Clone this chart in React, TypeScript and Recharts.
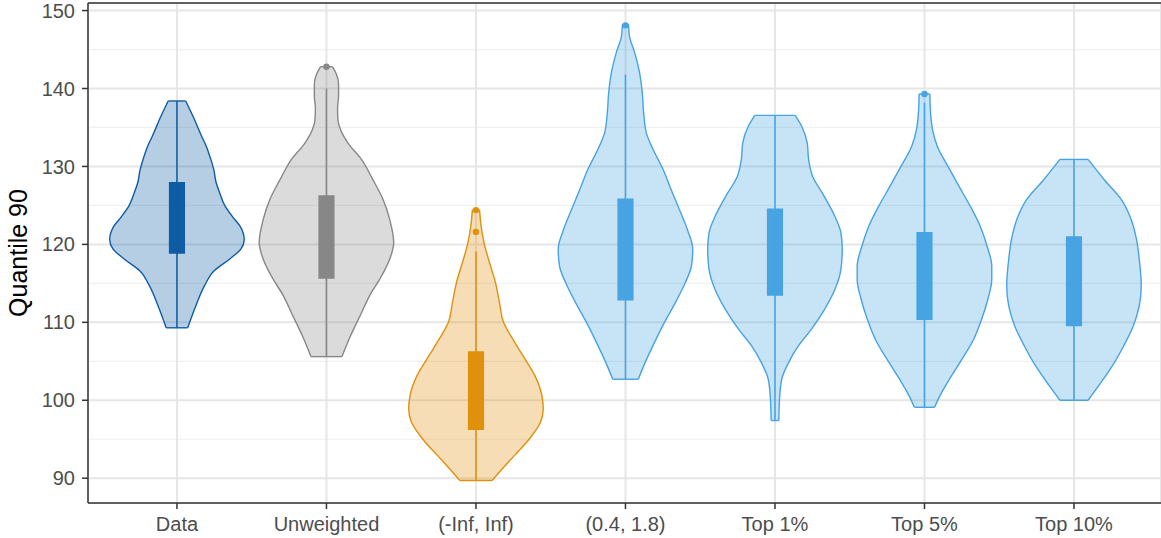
import React from "react";
import {
  ComposedChart,
  Area,
  Line,
  Scatter,
  XAxis,
  YAxis,
  CartesianGrid,
  ReferenceLine,
} from "recharts";

const FONT = '"Liberation Sans", Arial, Helvetica, sans-serif';

const categories = ["Data", "Unweighted", "(-Inf, Inf)", "(0.4, 1.8)", "Top 1%", "Top 5%", "Top 10%"];
const colors = ["#0E5CA4", "#878787", "#E0900B", "#47A3E2", "#47A3E2", "#47A3E2", "#47A3E2"];

// violin outlines: [quantile 90 value, width relative to the widest point], top to bottom
const dataViolin = [
  [138.4, 0.13], [136.4, 0.24], [134.0, 0.36], [132.5, 0.44], [131.0, 0.5], [129.5, 0.55],
  [128.0, 0.58], [126.5, 0.64], [125.0, 0.71], [123.5, 0.83], [122.3, 0.94], [120.6, 1.0],
  [119.4, 0.95], [118.1, 0.78], [116.6, 0.55], [114.7, 0.41], [112.1, 0.28], [109.3, 0.16],
];
const unweightedViolin = [
  [142.8, 0.087], [141.8, 0.15], [140.5, 0.18], [139.0, 0.18], [137.5, 0.165], [136.0, 0.17],
  [134.7, 0.21], [133.0, 0.32], [130.9, 0.52], [128.3, 0.69], [125.8, 0.84], [123.2, 0.94],
  [120.2, 1.0], [118.1, 0.94], [115.5, 0.79], [113.4, 0.64], [111.2, 0.52], [108.3, 0.36],
  [105.6, 0.23],
];
const infViolin = [
  [124.4, 0.054], [122.8, 0.07], [120.2, 0.12], [117.7, 0.2], [115.1, 0.29], [112.5, 0.35],
  [110.0, 0.41], [107.8, 0.55], [105.7, 0.7], [103.1, 0.88], [100.6, 0.98], [98.9, 1.0],
  [97.2, 0.96], [95.0, 0.79], [92.9, 0.57], [90.8, 0.35], [89.7, 0.24],
];
const rangeViolin = [
  [148.2, 0.045], [146.7, 0.06], [144.5, 0.14], [142.0, 0.21], [139.4, 0.25], [136.9, 0.27],
  [134.3, 0.31], [132.2, 0.41], [129.6, 0.56], [127.0, 0.68], [124.5, 0.8], [121.9, 0.92],
  [119.4, 1.0], [117.2, 0.98], [115.1, 0.89], [112.5, 0.74], [110.0, 0.58], [107.4, 0.43],
  [104.8, 0.29], [102.7, 0.19],
];
const top1Violin = [
  [136.55, 0.3], [135.1, 0.4], [133.0, 0.48], [130.9, 0.5], [128.7, 0.56], [126.2, 0.73],
  [123.6, 0.89], [121.5, 0.98], [119.35, 1.0], [116.8, 0.98], [114.2, 0.89], [111.7, 0.74],
  [109.1, 0.54], [107.0, 0.35], [104.8, 0.2], [102.7, 0.1], [100.1, 0.067], [97.4, 0.057],
];
const top5Violin = [
  [139.3, 0.08], [136.9, 0.09], [134.7, 0.12], [132.6, 0.19], [130.0, 0.35], [127.5, 0.51],
  [124.9, 0.68], [122.3, 0.83], [119.8, 0.93], [117.2, 1.0], [115.5, 1.0], [112.9, 0.94],
  [110.4, 0.85], [107.8, 0.73], [105.3, 0.56], [102.7, 0.37], [100.6, 0.23], [99.1, 0.15],
];
const top10Violin = [
  [130.9, 0.21], [128.3, 0.45], [125.8, 0.7], [123.2, 0.85], [120.6, 0.93], [118.1, 0.97],
  [114.7, 1.0], [112.1, 0.97], [109.5, 0.88], [107.0, 0.74], [104.4, 0.57], [101.9, 0.37],
  [100.0, 0.21],
];
const violins = [dataViolin, unweightedViolin, infViolin, rangeViolin, top1Violin, top5Violin, top10Violin];

// box stats: [lower whisker, q1, q3, upper whisker]
const boxStats = [
  [109.3, 118.8, 128.0, 138.4],
  [105.6, 115.6, 126.3, 140.0],
  [89.7, 96.2, 106.3, 119.1],
  [102.7, 112.8, 125.9, 141.8],
  [97.4, 113.4, 124.6, 136.55],
  [99.1, 110.3, 121.6, 138.2],
  [100.0, 109.5, 121.05, 130.9],
];
const outliers = [[], [142.8], [121.6, 124.4], [148.1], [], [139.3], []];

const yTicks = [90, 100, 110, 120, 130, 140, 150];
const yMinor = [95, 105, 115, 125, 135, 145];
const xTicks = categories.map((_, i) => i);

const HALF = 0.45; // half of the max violin width
const BOX_HALF = 0.054;
const X_DOMAIN = [-0.595, 6.582];
const Y_DOMAIN = [86.82, 150.97];

const violinRows = violins.map((p, i) => p.map(([v, w]) => ({ v, x: [i - w * HALF, i + w * HALF] })));
const capRows = violins.map((p, i) => {
  const [vt, wt] = p[0];
  const [vb, wb] = p[p.length - 1];
  return [
    [{ v: vt, x: i - wt * HALF }, { v: vt, x: i + wt * HALF }],
    [{ v: vb, x: i - wb * HALF }, { v: vb, x: i + wb * HALF }],
  ];
});
const whiskerRows = boxStats.map(([lo, , , hi], i) => [{ v: hi, x: i }, { v: lo, x: i }]);
const boxRows = boxStats.map(([, q1, q3], i) => [
  { v: q3, x: [i - BOX_HALF, i + BOX_HALF] },
  { v: q1, x: [i - BOX_HALF, i + BOX_HALF] },
]);
const outlierRows = outliers.map((o, i) => o.map((v) => ({ v, x: i })));

const YTitle = (props: any) => {
  const vb = props.viewBox ?? { x: 0, y: 3, width: 88, height: 501 };
  const cx = vb.x + 27;
  const cy = vb.y + vb.height / 2;
  return (
    <text
      x={cx}
      y={cy}
      transform={`rotate(-90, ${cx}, ${cy})`}
      textAnchor="middle"
      fontSize={25}
      fontFamily={FONT}
      fill="#000"
    >
      Quantile 90
    </text>
  );
};

export default function App() {
  return (
    <div style={{ position: "absolute", left: 0, top: 0, background: "#fff", fontFamily: FONT }}>
      <ComposedChart width={1161} height={538} layout="vertical" margin={{ top: 3, right: 0, bottom: 0, left: 0 }}>
        <CartesianGrid stroke="#f0f0f0" strokeWidth={1.2} vertical={false} horizontalValues={yMinor} />
        <CartesianGrid stroke="#e6e6e6" strokeWidth={2} />
        <XAxis
          type="number"
          domain={X_DOMAIN}
          allowDataOverflow
          ticks={xTicks}
          interval={0}
          tickFormatter={(i: number) => categories[i] ?? ""}
          height={35}
          tickSize={6}
          tickMargin={8}
          stroke="#333"
          strokeWidth={1.5}
          tick={{ fill: "#4d4d4d", fontSize: 20, fontFamily: FONT }}
        />
        <YAxis
          type="number"
          dataKey="v"
          domain={Y_DOMAIN}
          allowDataOverflow
          reversed
          ticks={yTicks}
          interval={0}
          width={88}
          tickSize={6}
          tickMargin={7}
          stroke="#333"
          strokeWidth={1.5}
          tick={{ fill: "#4d4d4d", fontSize: 20, fontFamily: FONT }}
          label={<YTitle />}
        />
        <ReferenceLine y={Y_DOMAIN[1]} stroke="#333" strokeWidth={1.5} />

        {categories.map((c, i) => (
          <Area
            key={`violin-${c}`}
            data={violinRows[i]}
            dataKey="x"
            type="monotone"
            fill={colors[i]}
            fillOpacity={0.3}
            stroke={colors[i]}
            strokeWidth={1.4}
            isAnimationActive={false}
          />
        ))}
        {categories.map((c, i) =>
          capRows[i].map((cap, j) => (
            <Line
              key={`cap-${c}-${j}`}
              data={cap}
              dataKey="x"
              type="linear"
              stroke={colors[i]}
              strokeWidth={1.4}
              dot={false}
              isAnimationActive={false}
            />
          ))
        )}
        {categories.map((c, i) => (
          <Line
            key={`whisker-${c}`}
            data={whiskerRows[i]}
            dataKey="x"
            type="linear"
            stroke={colors[i]}
            strokeWidth={1.5}
            dot={false}
            isAnimationActive={false}
          />
        ))}
        {categories.map((c, i) => (
          <Area
            key={`box-${c}`}
            data={boxRows[i]}
            dataKey="x"
            type="linear"
            fill={colors[i]}
            fillOpacity={1}
            stroke="none"
            isAnimationActive={false}
          />
        ))}
        {categories.map((c, i) =>
          outlierRows[i].length ? (
            <Scatter
              key={`out-${c}`}
              data={outlierRows[i]}
              dataKey="x"
              fill={colors[i]}
              shape={(p: any) => <circle cx={p.cx} cy={p.cy} r={3.2} fill={colors[i]} />}
              isAnimationActive={false}
            />
          ) : null
        )}
      </ComposedChart>
    </div>
  );
}
